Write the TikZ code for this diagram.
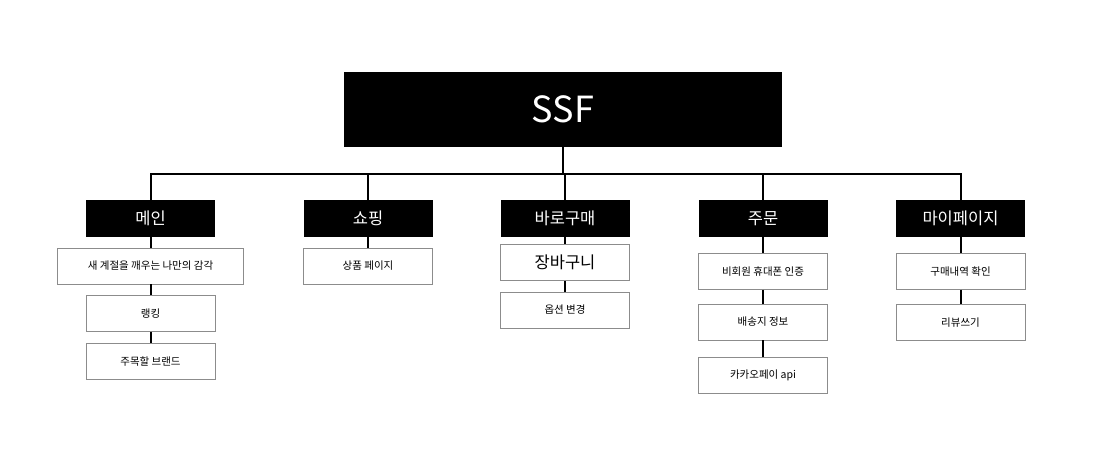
\documentclass[tikz,border=0pt]{standalone}
\usepackage{fontspec}
\newfontfamily\kr{Noto Sans CJK KR}
\begin{document}
\begin{tikzpicture}[x=1pt,y=-1pt,
  root/.style={fill=black,text=white,minimum width=438pt,minimum height=75pt,inner sep=0pt,font=\kr\fontsize{36}{40}\selectfont},
  hdr/.style={fill=black,text=white,minimum width=129pt,minimum height=37pt,inner sep=0pt,font=\kr\fontsize{16.5}{20}\selectfont},
  kid/.style={draw=black!45,line width=0.8pt,fill=white,minimum width=129pt,minimum height=36pt,inner sep=0pt,font=\kr\fontsize{10.5}{13}\selectfont},
  kidbig/.style={kid,font=\kr\fontsize{16.5}{20}\selectfont},
  link/.style={draw=black,line width=2pt}]
\useasboundingbox[fill=white] (0,0) rectangle (1102,450);
\coordinate (bus) at (0,174);
\node[root] (ssf) at (563,109.5) {SSF};
% headers
\node[hdr] (h1) at (150.5,218.5) {메인};
\node[hdr] (h2) at (368,218.5) {쇼핑};
\node[hdr] (h3) at (565,218.5) {바로구매};
\node[hdr] (h4) at (763,218.5) {주문};
\node[hdr] (h5) at (960.5,218.5) {마이페이지};
% children
\node[kid,minimum width=186pt] (a1) at (150.5,266) {새 계절을 깨우는 나만의 감각};
\node[kid] (a2) at (150.5,313.5) {랭킹};
\node[kid] (a3) at (150.5,361.5) {주목할 브랜드};
\node[kid] (b1) at (368,266) {상품 페이지};
\node[kidbig] (c1) at (565,262.5) {장바구니};
\node[kid] (c2) at (565,310) {옵션 변경};
\node[kid] (d1) at (763,271.5) {비회원 휴대폰 인증};
\node[kid] (d2) at (763,322) {배송지 정보};
\node[kid] (d3) at (763,375) {카카오페이 api};
\node[kid] (e1) at (960.5,271.5) {구매내역 확인};
\node[kid] (e2) at (960.5,322.5) {리뷰쓰기};
% connectors
\draw[link] (ssf.south) -- (ssf.south |- bus);
\draw[link] (h1.north) -- (h1.north |- bus) -- (h5.north |- bus) -- (h5.north);
\draw[link] (h2.north) -- (h2.north |- bus);
\draw[link] (h3.north) -- (h3.north |- bus);
\draw[link] (h4.north) -- (h4.north |- bus);
\draw[link] (h1.south) -- (a1.north);
\draw[link] (a1.south) -- (a2.north);
\draw[link] (a2.south) -- (a3.north);
\draw[link] (h2.south) -- (b1.north);
\draw[link] (h3.south) -- (c1.north);
\draw[link] (c1.south) -- (c2.north);
\draw[link] (h4.south) -- (d1.north);
\draw[link] (d1.south) -- (d2.north);
\draw[link] (d2.south) -- (d3.north);
\draw[link] (h5.south) -- (e1.north);
\draw[link] (e1.south) -- (e2.north);
\end{tikzpicture}
\end{document}
